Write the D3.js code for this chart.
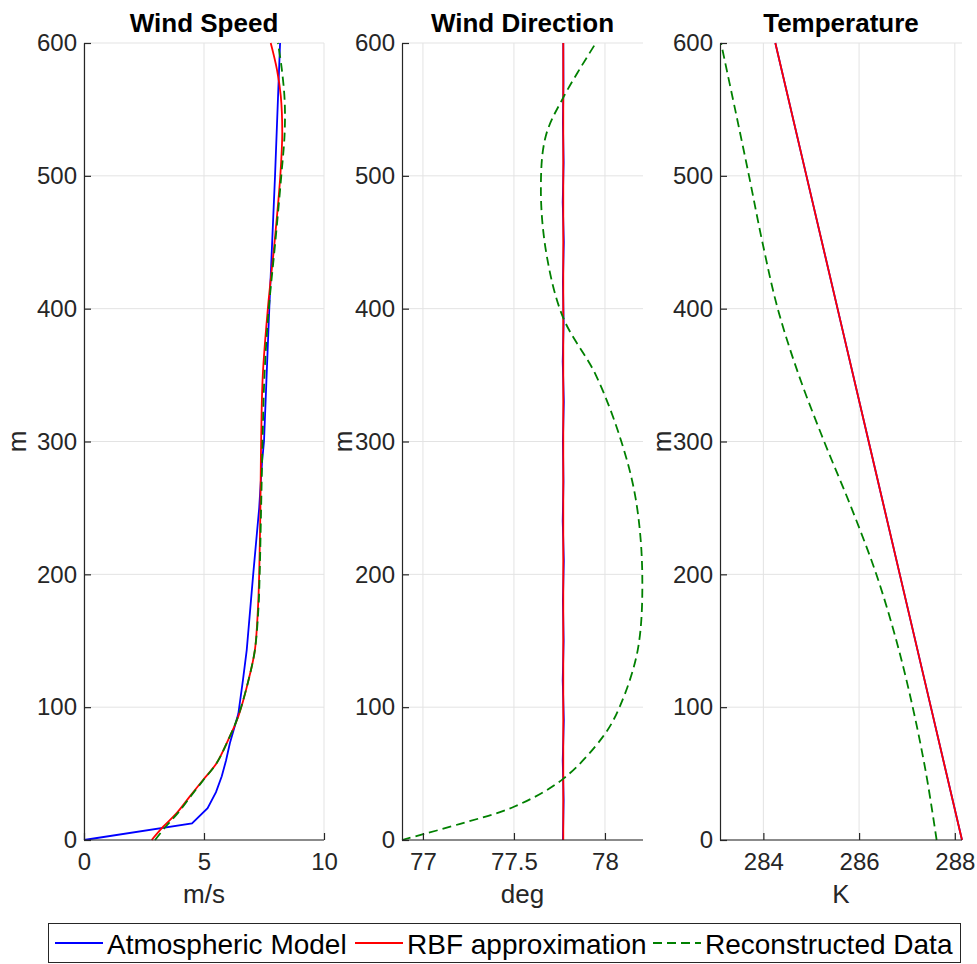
<!DOCTYPE html>
<html>
<head>
<meta charset="utf-8">
<script src="https://cdn.jsdelivr.net/npm/d3@7"></script>
<style>
  body { margin: 0; background: #fff; }
  svg { display: block; }
  text { font-family: "Liberation Sans", Arial, sans-serif; }
</style>
</head>
<body>
<svg id="chart" width="977" height="964"></svg>
<script>
// ---- data ----
const heightTicks = [0, 100, 200, 300, 400, 500, 600];
const speedTicks = [0, 5, 10];
const dirTicks = [77, 77.5, 78];
const tempTicks = [284, 286, 288];

// wind speed, m/s
const speedModelH = [0, 12.5, 24, 36, 48, 60, 73, 95, 120, 143, 200, 250, 285, 300, 400, 500, 600];
const speedModel  = [0, 4.5, 5.15, 5.5, 5.74, 5.92, 6.08, 6.43, 6.62, 6.78, 7.05, 7.3, 7.42, 7.5, 7.72, 7.96, 8.17];
const speedRbfH = [0, 10, 20, 33, 45, 58, 75, 93, 120, 143, 175, 200, 250, 300, 350, 400, 450, 500, 532, 560, 580, 600];
const speedRbf  = [2.82, 3.3, 3.85, 4.42, 4.95, 5.53, 6.0, 6.43, 6.85, 7.12, 7.25, 7.3, 7.35, 7.38, 7.45, 7.66, 7.94, 8.18, 8.26, 8.2, 8.04, 7.78];
const speedRecH = [0, 10, 20, 33, 45, 58, 75, 93, 120, 143, 175, 200, 250, 300, 350, 400, 450, 500, 532, 557, 582, 600];
const speedRec  = [2.96, 3.4, 3.9, 4.45, 4.97, 5.53, 6.0, 6.42, 6.85, 7.12, 7.27, 7.32, 7.38, 7.44, 7.52, 7.7, 7.97, 8.22, 8.36, 8.36, 8.23, 8.08];

// wind direction, deg
const dirModelH = [0, 30, 60, 90, 120, 150, 180, 210, 240, 270, 300, 330, 360, 390, 420, 450, 480, 510, 540, 570, 600];
const dirModel  = [77.769, 77.773, 77.768, 77.774, 77.768, 77.773, 77.769, 77.774, 77.768, 77.772, 77.769, 77.774, 77.768, 77.773, 77.769, 77.774, 77.768, 77.773, 77.769, 77.772, 77.771];
const dirRbfH = [0, 600];
const dirRbf  = [77.771, 77.771];
const dirRecH = [0, 12, 25, 46, 78, 100, 143, 200, 256, 300, 350, 393, 440, 490, 530, 560, 600];
const dirRec  = [76.885, 77.2, 77.5, 77.77, 77.99, 78.08, 78.18, 78.205, 78.17, 78.09, 77.95, 77.771, 77.68, 77.648, 77.675, 77.775, 77.95];

// temperature, K
const tempModelH = [0, 100, 200, 300, 400, 500, 600];
const tempModel  = [288.15, 287.5, 286.85, 286.2, 285.55, 284.9, 284.25];
const tempRbfH = [0, 100, 200, 300, 400, 500, 600];
const tempRbf  = [288.15, 287.5, 286.85, 286.2, 285.55, 284.9, 284.25];
const tempRecH = [0, 50, 100, 150, 200, 250, 300, 350, 400, 450, 500, 550, 600];
const tempRec  = [287.62, 287.4, 287.12, 286.78, 286.36, 285.84, 285.27, 284.74, 284.3, 283.98, 283.7, 283.41, 283.115];

const seriesNames = ["Atmospheric Model", "RBF approximation", "Reconstructed Data"];

// ---- layout ----
const svg = d3.select("#chart");
const plotTop = 43, plotBottom = 840;
const axisColor = "#262626";
const gridColor = "#e3e3e3";

const y = d3.scaleLinear().domain([0, 600]).range([plotBottom, plotTop]);
const smooth = d3.curveCatmullRom.alpha(0.5);

const panels = [
  { title: "Wind Speed", xlabel: "m/s", left: 84, right: 324, domain: [0, 10], ticks: speedTicks, fmt: d3.format("d"), mLabelX: 26,
    lines: [[speedModelH, speedModel], [speedRbfH, speedRbf], [speedRecH, speedRec]], curve: [d3.curveLinear, smooth, smooth] },
  { title: "Wind Direction", xlabel: "deg", left: 402, right: 643, domain: [76.885, 78.209], ticks: dirTicks, fmt: d => String(d), mLabelX: 352,
    lines: [[dirModelH, dirModel], [dirRbfH, dirRbf], [dirRecH, dirRec]], curve: [d3.curveLinear, d3.curveLinear, smooth] },
  { title: "Temperature", xlabel: "K", left: 720, right: 962, domain: [283.094, 288.15], ticks: tempTicks, fmt: d3.format("d"), mLabelX: 671,
    lines: [[tempModelH, tempModel], [tempRbfH, tempRbf], [tempRecH, tempRec]], curve: [d3.curveLinear, d3.curveLinear, smooth] }
];

const styles = [
  { color: "#0000ff", dash: null },
  { color: "#ff0000", dash: null },
  { color: "#008000", dash: "9,5" }
];

panels.forEach(p => {
  const x = d3.scaleLinear().domain(p.domain).range([p.left, p.right]);
  const g = svg.append("g").attr("class", "panel");

  // grid
  g.append("g").selectAll("line.vgrid").data(p.ticks).enter()
    .append("line")
      .attr("x1", d => x(d)).attr("x2", d => x(d))
      .attr("y1", plotTop).attr("y2", plotBottom)
      .attr("stroke", gridColor).attr("stroke-width", 1);
  g.append("g").selectAll("line.hgrid").data(heightTicks).enter()
    .append("line")
      .attr("x1", p.left).attr("x2", p.right)
      .attr("y1", d => y(d)).attr("y2", d => y(d))
      .attr("stroke", gridColor).attr("stroke-width", 1);

  // lines
  p.lines.forEach((ln, i) => {
    const pts = ln[0].map((h, k) => [ln[1][k], h]);
    const path = d3.line().x(d => x(d[0])).y(d => y(d[1])).curve(p.curve[i]);
    g.append("path")
      .datum(pts)
      .attr("d", path)
      .attr("fill", "none")
      .attr("stroke", styles[i].color)
      .attr("stroke-width", 1.8)
      .attr("stroke-dasharray", styles[i].dash);
  });

  // axes (ticks point inward like matlab)
  const xAxis = d3.axisBottom(x).tickValues(p.ticks).tickFormat(p.fmt)
    .tickSizeInner(-7).tickSizeOuter(0).tickPadding(13);
  const yAxis = d3.axisLeft(y).tickValues(heightTicks).tickFormat(d3.format("d"))
    .tickSizeInner(-7).tickSizeOuter(0).tickPadding(7);

  const xg = g.append("g").attr("transform", "translate(0," + plotBottom + ")").call(xAxis);
  const yg = g.append("g").attr("transform", "translate(" + p.left + ",0)").call(yAxis);
  [xg, yg].forEach(a => {
    a.select(".domain").attr("stroke", axisColor).attr("stroke-width", 1.2);
    a.selectAll(".tick line").attr("stroke", axisColor).attr("stroke-width", 1.2);
    a.selectAll(".tick text").attr("fill", axisColor)
      .style("font-family", '"Liberation Sans", Arial, sans-serif').style("font-size", "24px");
    a.attr("font-family", null).attr("font-size", null);
  });
  // x domain starts exactly at the panel edge
  xg.select(".domain").attr("d", "M" + p.left + ",0H" + p.right);

  // labels
  g.append("text")
    .attr("x", (p.left + p.right) / 2).attr("y", 32)
    .attr("text-anchor", "middle")
    .style("font-size", "26px").style("font-weight", "bold")
    .attr("fill", "#000")
    .text(p.title);
  g.append("text")
    .attr("x", (p.left + p.right) / 2).attr("y", 903)
    .attr("text-anchor", "middle")
    .style("font-size", "26px")
    .attr("fill", axisColor)
    .text(p.xlabel);
  g.append("text")
    .attr("transform", "translate(" + p.mLabelX + "," + ((plotTop + plotBottom) / 2) + ") rotate(-90)")
    .attr("text-anchor", "middle")
    .style("font-size", "26px")
    .attr("fill", axisColor)
    .text("m");
});

// ---- legend ----
const legend = svg.append("g").attr("class", "legend");
legend.append("rect")
  .attr("x", 48.5).attr("y", 923.5).attr("width", 912).attr("height", 39)
  .attr("fill", "#fff").attr("stroke", "#262626").attr("stroke-width", 1);
const legendX = [55, 355, 653];
seriesNames.forEach((name, i) => {
  legend.append("line")
    .attr("x1", legendX[i]).attr("x2", legendX[i] + 48)
    .attr("y1", 943).attr("y2", 943)
    .attr("stroke", styles[i].color).attr("stroke-width", 1.8)
    .attr("stroke-dasharray", styles[i].dash);
  legend.append("text")
    .attr("x", legendX[i] + 52).attr("y", 954)
    .style("font-size", "28px").attr("fill", "#000")
    .text(name);
});
</script>
</body>
</html>
